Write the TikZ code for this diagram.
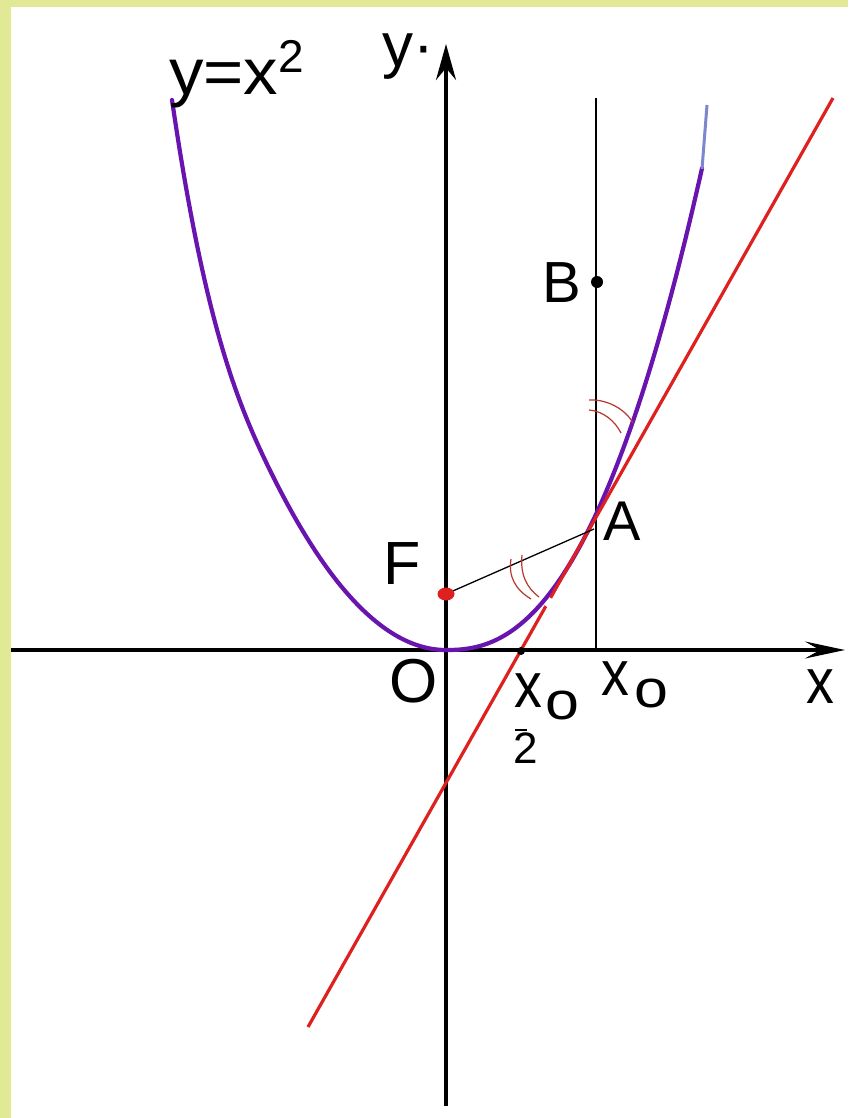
\documentclass[tikz,border=0pt]{standalone}
\usepackage{fontspec}
\usepackage{graphicx}
\usetikzlibrary{arrows.meta,calc}
\newfontfamily\labfont{Liberation Sans}
\definecolor{curvepurple}{RGB}{105,20,175}
\definecolor{tanred}{RGB}{222,32,30}
\definecolor{arcred}{RGB}{185,55,45}
\definecolor{bandA}{RGB}{226,233,150}
\definecolor{bandB}{RGB}{238,224,112}
\definecolor{tipblue}{RGB}{125,135,205}
\newcommand{\fsz}[1]{\labfont\fontsize{#1pt}{#1pt}\selectfont}
\begin{document}
\begin{tikzpicture}[x=1pt,y=-1pt,
  lbl/.style={inner sep=0pt,outer sep=0pt,anchor=base west},
  axisline/.style={line width=3.4pt,black},
  curveline/.style={curvepurple,line width=4.2pt,line join=round,line cap=round},
  tanline/.style={tanred,line width=3.2pt},
  arcmark/.style={arcred,line width=1.2pt},
  thinline/.style={black,line width=2pt}]
\useasboundingbox (0,0) rectangle (848,1118);
\fill[white] (0,0) rectangle (848,1118);
\shade[top color=bandA,middle color=bandB,bottom color=bandA] (0,0) rectangle (11,1118);
\fill[bandA] (0,0) rectangle (848,7);

% key points
\coordinate (O) at (446,650);
\coordinate (A) at (595,519);
\coordinate (F) at (446,594);
\coordinate (B) at (597,282);
\coordinate (H) at (521,651);
\coordinate (Aseg) at (594,529);
\coordinate (Vtop) at (596,98);
\coordinate (Vbot) at (596,650);
\coordinate (R1) at (308,1027);
\coordinate (R2) at (833,98);
\coordinate (Xs) at (11,650);
\coordinate (Xe) at (845,650);
\coordinate (Ys) at (446,1106);
\coordinate (Ye) at (446,44);
\coordinate (Ptop) at (702,169);
\coordinate (Ptip) at (707,105);

% vertical line through A
\draw[thinline] (Vtop) -- (Vbot);

% axes
\draw[axisline,-{Stealth[length=40pt,width=17pt,inset=15pt]}] (Xs) -- (Xe);
\draw[axisline,-{Stealth[length=36pt,width=20pt,inset=12pt]}] (Ys) -- (Ye);

% parabola
\draw[curveline]
  plot[domain=274:0,samples=110] ({446-\x},{650-58*(\x/100)*(\x/100)-138*(max(\x-180,0)/100)*(max(\x-180,0)/100)*(max(\x-180,0)/100)})
  -- plot[domain=0.5:256,samples=110] ({446+\x},{650-126.7*exp(2.37*ln(\x/145.7))});
\draw[tipblue,line width=3pt] (Ptop) -- (Ptip);

% tangent line (with small gap)
\draw[tanline] (R1) -- ($(R1)!0.453!(R2)$);
\draw[tanline] ($(R1)!0.462!(R2)$) -- (R2);

% segment FA
\draw[black,line width=1.3pt] (F) -- (Aseg);

% angle marks
\draw[arcmark] (589,400) .. controls (608,399) and (626,410) .. (633,423);
\draw[arcmark] (589,410) .. controls (603,411) and (615,421) .. (621,433);
\draw[arcmark] (511,559) .. controls (508,577) and (516,590) .. (531,599);
\draw[arcmark] (522,555) .. controls (520,575) and (527,588) .. (539,597);

% points
\fill[tanred] (F) ellipse [x radius=8.5pt, y radius=6.5pt];
\fill[black] (B) circle [radius=6pt];
\fill[black] (H) circle [radius=4pt];

% labels
\node[lbl] (lbeq) at (169,95) {\scalebox{1.06}[1]{\fsz{65}y=x}};
\node[lbl] (lbsq) at (278,73) {\fsz{46}2};
\node[lbl] (lby) at (382,67) {\fsz{62}y·};
\node[lbl] (lbF) at (383,584) {\fsz{61}F};
\node[lbl] (lbA) at (603,540) {\fsz{56}A};
\node[lbl] (lbB) at (542.5,302) {\fsz{58}B};
\node[lbl] (lbO) at (389,702) {\fsz{62}O};
\node[lbl] (lbxa) at (514,707) {\scalebox{0.87}[1]{\fsz{64}x}};
\node[lbl] (lboa) at (545.5,719) {\scalebox{1.15}[1]{\fsz{53}o}};
\node[lbl] (lbtwo) at (513.5,763) {\fsz{44}2};
\coordinate (barL) at (515,730);
\coordinate (barR) at (527,730);
\draw[black,line width=2pt] (barL) -- (barR);
\node[lbl] (lbxb) at (601,695) {\scalebox{0.87}[1]{\fsz{64}x}};
\node[lbl] (lbob) at (634.5,707) {\scalebox{1.15}[1]{\fsz{53}o}};
\node[lbl] (lbX) at (806,703) {\scalebox{0.87}[1]{\fsz{64}x}};
\end{tikzpicture}
\end{document}
